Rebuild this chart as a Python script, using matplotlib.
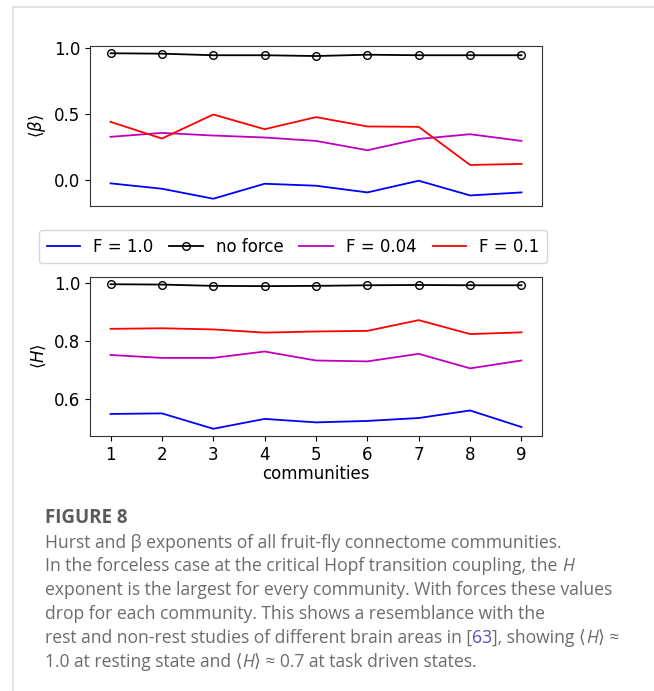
import matplotlib
matplotlib.use("Agg")
import matplotlib.pyplot as plt
from matplotlib.transforms import IdentityTransform
from matplotlib.lines import Line2D

# ---------------- data ----------------
communities = [1, 2, 3, 4, 5, 6, 7, 8, 9]
series_labels = ["F = 1.0", "no force", "F = 0.04", "F = 0.1"]

beta_f1 = [-0.028, -0.069, -0.145, -0.031, -0.046, -0.097, -0.008, -0.120, -0.097]
beta_noforce = [0.962, 0.959, 0.947, 0.947, 0.941, 0.951, 0.947, 0.947, 0.947]
beta_f004 = [0.326, 0.356, 0.336, 0.321, 0.295, 0.224, 0.310, 0.346, 0.295]
beta_f01 = [0.440, 0.313, 0.496, 0.384, 0.476, 0.405, 0.402, 0.112, 0.120]

hurst_f1 = [0.550, 0.552, 0.499, 0.533, 0.521, 0.526, 0.536, 0.562, 0.505]
hurst_noforce = [0.9966, 0.9954, 0.991, 0.990, 0.991, 0.993, 0.994, 0.993, 0.993]
hurst_f004 = [0.753, 0.743, 0.743, 0.765, 0.734, 0.731, 0.757, 0.707, 0.734]
hurst_f01 = [0.843, 0.845, 0.841, 0.830, 0.834, 0.836, 0.873, 0.825, 0.831]

beta_ticks = [0.0, 0.5, 1.0]
hurst_ticks = [0.6, 0.8, 1.0]

# ---------------- figure ----------------
W, H = 654, 691
fig = plt.figure(figsize=(W / 100, H / 100), dpi=100)
plt.rcParams['font.family'] = ['DejaVu Sans']


def ax_rect(left, right, top, bottom):
    return [left / W, 1 - bottom / H, (right - left) / W, (bottom - top) / H]


ax1 = fig.add_axes(ax_rect(90, 542, 46, 206))
ax2 = fig.add_axes(ax_rect(90, 542, 277, 436))

colors = ["#0000ff", "black", "#c000c0", "#ff0000"]
lw = 1.3


def draw(ax, vals):
    f1, nf, f004, f01 = vals
    ax.plot(communities, f1, color=colors[0], lw=lw, label=series_labels[0])
    ax.plot(communities, nf, color=colors[1], lw=lw, marker='o', ms=5.5,
            mfc='none', mew=1.0, label=series_labels[1])
    ax.plot(communities, f004, color=colors[2], lw=lw, label=series_labels[2])
    ax.plot(communities, f01, color=colors[3], lw=lw, label=series_labels[3])


draw(ax1, (beta_f1, beta_noforce, beta_f004, beta_f01))
draw(ax2, (hurst_f1, hurst_noforce, hurst_f004, hurst_f01))

ax1.set_yticks(beta_ticks)
ax1.set_xticks([])
ax2.set_yticks(hurst_ticks)
ax2.set_xticks(communities)
for ax in (ax1, ax2):
    ax.tick_params(labelsize=12)
    for s in ax.spines.values():
        s.set_color('#333333')
ax1.set_ylabel(r'$\langle\beta\rangle$', fontsize=12)
ax2.set_ylabel(r'$\langle H\rangle$', fontsize=12)
ax2.set_xlabel('communities', fontsize=12, labelpad=1)

handles, labels = ax1.get_legend_handles_labels()
leg = fig.legend(handles, labels, ncol=4, mode='expand', loc='upper left',
                 bbox_to_anchor=(39 / W, 1 - 230 / H, 508 / W, 0),
                 bbox_transform=fig.transFigure, borderaxespad=0,
                 fontsize=12, handlelength=2.0, handletextpad=0.8,
                 borderpad=0.45, fancybox=True)

# frame lines of the caption panel
fig.add_artist(Line2D([13 / W, 13 / W], [0, 1 - 7 / H], color='#dddddd', lw=1.2,
                      transform=fig.transFigure))
fig.add_artist(Line2D([13 / W, 1.0], [1 - 7 / H, 1 - 7 / H], color='#dddddd', lw=1.2,
                      transform=fig.transFigure))

# ---------------- caption ----------------
cap_family = ['Open Sans', 'DejaVu Sans']
grey = '#6c6c6c'
blue = '#5b4fb5'
renderer = fig.canvas.get_renderer()


def seg_width(s, **kw):
    t1 = fig.text(0, 0, 'x' + s + 'x', transform=IdentityTransform(), **kw)
    t2 = fig.text(0, 0, 'xx', transform=IdentityTransform(), **kw)
    w = t1.get_window_extent(renderer).width - t2.get_window_extent(renderer).width
    t1.remove()
    t2.remove()
    return w


# fit caption size so the longest line spans the same width as in the reference
ref_line = "exponent is the largest for every community. With forces these values"
w10 = seg_width(ref_line, family=cap_family, fontsize=10)
cap_size = 10 * 568 / w10


def draw_line(x, y, segments):
    for s, extra in segments:
        kw = dict(family=cap_family, fontsize=cap_size, color=grey, va='center')
        kw.update(extra)
        fig.text(x, H - y, s, transform=IdentityTransform(), **kw)
        x += seg_width(s, **kw)


fig.text(45, H - 518, 'FIGURE 8', transform=IdentityTransform(), family=cap_family,
         fontsize=cap_size * 1.07, color='#5a5a5a', fontweight='bold', va='center')

it = {'style': 'italic'}
lines = [
    [("Hurst and β exponents of all fruit-fly connectome communities.", {})],
    [("In the forceless case at the critical Hopf transition coupling, the ", {}), ("H", it)],
    [("exponent is the largest for every community. With forces these values", {})],
    [("drop for each community. This shows a resemblance with the", {})],
    [("rest and non-rest studies of different brain areas in [", {}), ("63", {'color': blue}),
     ("], showing ⟨", {}), ("H", it), ("⟩ ≈", {})],
    [("1.0 at resting state and ⟨", {}), ("H", it), ("⟩ ≈ 0.7 at task driven states.", {})],
]
line_y = [543, 566, 590, 614, 638, 662]
for ly, segs in zip(line_y, lines):
    draw_line(45, ly, segs)

fig.savefig('out.png', dpi=100)
